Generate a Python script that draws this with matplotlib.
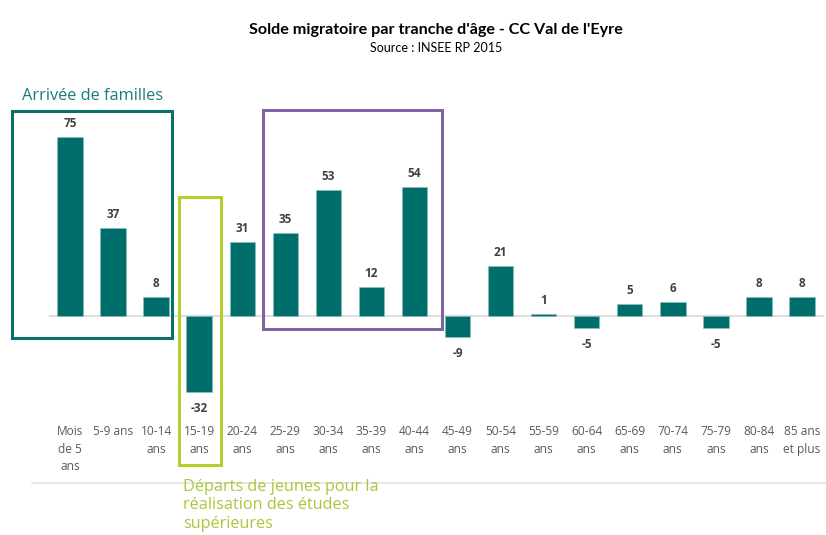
import matplotlib.pyplot as plt
from matplotlib.patches import Rectangle
from matplotlib.lines import Line2D

# données : solde migratoire par tranche d'âge (INSEE RP 2015)
categories = ["Mois\nde 5\nans", "5-9 ans", "10-14\nans", "15-19\nans", "20-24\nans",
              "25-29\nans", "30-34\nans", "35-39\nans", "40-44\nans", "45-49\nans",
              "50-54\nans", "55-59\nans", "60-64\nans", "65-69\nans", "70-74\nans",
              "75-79\nans", "80-84\nans", "85 ans\net plus"]
solde = [75, 37, 8, -32, 31, 35, 53, 12, 54, -9, 21, 1, -5, 5, 6, -5, 8, 8]

teal = '#006e6a'
txt_gray = '#595959'

fig = plt.figure(figsize=(8.26, 5.35), dpi=100)
ax = fig.add_axes([48.5 / 826, 0.2312, 775 / 826, 0.5344])

x = list(range(len(solde)))
ax.bar(x, solde, width=0.59, color=teal, edgecolor='#8fbfbd', linewidth=0.4, zorder=2)
ax.axhline(0, color='#d9d9d9', lw=1.2, zorder=1)

for xi, v in zip(x, solde):
    if v >= 0:
        ax.annotate(str(v), (xi, v), xytext=(0, 5), textcoords='offset points',
                    ha='center', va='bottom', fontsize=8.5, fontweight='bold',
                    color='#404040', family='Open Sans')
    else:
        ax.annotate(str(v), (xi, v), xytext=(0, -7), textcoords='offset points',
                    ha='center', va='top', fontsize=8.5, fontweight='bold',
                    color='#404040', family='Open Sans')

ax.set_xlim(-0.5, len(solde) - 0.5)
ax.set_ylim(-40, 80)
ax.set_xticks(x)
ax.set_xticklabels(categories, fontsize=8.6, color=txt_gray, family='Open Sans',
                   linespacing=1.45)
ax.tick_params(axis='x', length=0, pad=10)
ax.set_yticks([])
for s in ax.spines.values():
    s.set_visible(False)

# cadres d'annotation
boxes = [(-1.35, -9.4, 2.38, 86.0, '#0b6f6b'),
         (4.48, -5.3, 8.64, 86.4, '#8064a2'),
         (2.53, -62.5, 3.51, 50.1, '#b3cf2a')]
for x0, y0, x1, y1, c in boxes:
    ax.add_patch(Rectangle((x0, y0), x1 - x0, y1 - y0, fill=False, edgecolor=c,
                           lw=2.2, clip_on=False, zorder=3))

fig.text(0.528, 0.944, "Solde migratoire par tranche d'âge - CC Val de l'Eyre",
         ha='center', va='center', fontsize=11.6, fontweight='bold', family='Lato',
         color='black')
fig.text(0.528, 0.910, "Source : INSEE RP 2015", ha='center', va='center',
         fontsize=9, family='Lato', color='black')

fig.text(22 / 826, 0.8206, "Arrivée de familles", ha='left', va='center',
         fontsize=11.8, family='Open Sans', color='#1b7d78')
fig.text(183 / 826, 0.1045, "Départs de jeunes pour la\nréalisation des études\nsupérieures",
         ha='left', va='top', fontsize=11.7, family='Open Sans', color='#a8c83c',
         linespacing=1.2)

fig.add_artist(Line2D([32 / 826, 1.0], [0.0972, 0.0972], color='#e3e3e3', lw=1.2))

fig.savefig('out.png', dpi=100)
